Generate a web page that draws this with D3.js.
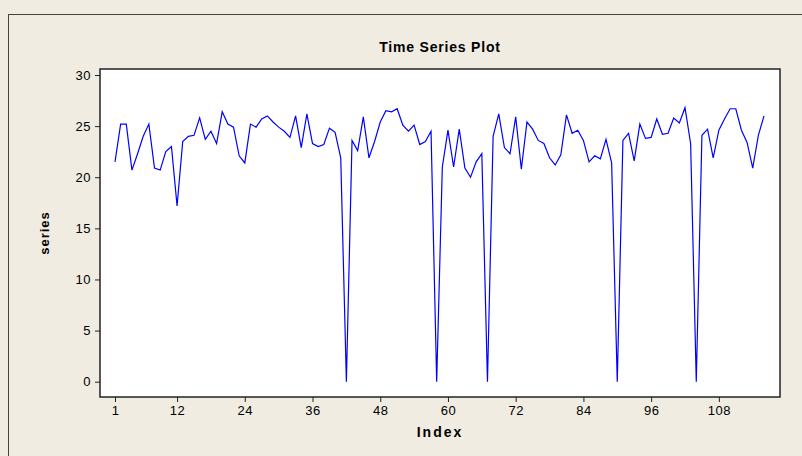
<!DOCTYPE html>
<html>
<head>
<meta charset="utf-8">
<script src="https://d3js.org/d3.v7.min.js"></script>
<style>
  body { margin: 0; background: #f0ece1; }
  text { font-family: "Liberation Sans", Arial, sans-serif; }
</style>
</head>
<body>
<svg id="chart" width="802" height="456"></svg>
<script>
const seriesValues = [
  21.5, 25.2, 25.2, 20.7, 22.3, 24.0, 25.2, 20.9, 20.7, 22.5,
  23.0, 17.2, 23.5, 24.0, 24.1, 25.8, 23.7, 24.5, 23.3, 26.4,
  25.2, 24.9, 22.1, 21.4, 25.2, 24.9, 25.7, 26.0, 25.4, 24.9,
  24.5, 23.9, 26.0, 22.9, 26.2, 23.3, 23.0, 23.2, 24.8, 24.4,
  21.9, 0, 23.6, 22.6, 25.9, 21.9, 23.5, 25.4, 26.5, 26.4,
  26.7, 25.1, 24.5, 25.1, 23.2, 23.5, 24.5, 0, 21.0, 24.6,
  21.0, 24.7, 20.9, 20.0, 21.5, 22.3, 0, 24.0, 26.2, 22.9,
  22.3, 25.9, 20.8, 25.4, 24.7, 23.6, 23.3, 21.9, 21.2, 22.2,
  26.1, 24.3, 24.6, 23.6, 21.5, 22.1, 21.8, 23.7, 21.4, 0,
  23.6, 24.3, 21.6, 25.2, 23.8, 23.9, 25.7, 24.2, 24.3, 25.8,
  25.3, 26.8, 23.3, 0, 24.1, 24.7, 21.9, 24.6, 25.7, 26.7,
  26.7, 24.6, 23.4, 20.9, 24.1, 26.0
]
const xTicks = [1, 12, 24, 36, 48, 60, 72, 84, 96, 108]
const yTicks = [0, 5, 10, 15, 20, 25, 30]

const svg = d3.select("#chart")
const plot = { left: 100, top: 69, right: 780, bottom: 397 }

// outer frame, cut off at right and bottom
svg.append("rect")
  .attr("x", 8.5).attr("y", 14.5)
  .attr("width", 820).attr("height", 460)
  .attr("fill", "#f0ece1")
  .attr("stroke", "#444").attr("stroke-width", 1)

svg.append("rect")
  .attr("x", plot.left).attr("y", plot.top)
  .attr("width", plot.right - plot.left).attr("height", plot.bottom - plot.top)
  .attr("fill", "#fff")
  .attr("stroke", "#222").attr("stroke-width", 1.5)

const x = d3.scaleLinear().domain([1, 116]).range([115, 764])
const y = d3.scaleLinear().domain([0, 30]).range([381.7, 75])

const xAxis = svg.append("g")
  .attr("transform", `translate(0,${plot.bottom})`)
  .call(d3.axisBottom(x).tickValues(xTicks).tickSize(5).tickPadding(4).tickSizeOuter(0))
xAxis.select(".domain").remove()

const yAxis = svg.append("g")
  .attr("transform", `translate(${plot.left},0)`)
  .call(d3.axisLeft(y).tickValues(yTicks).tickSize(5).tickPadding(4).tickSizeOuter(0))
yAxis.select(".domain").remove()

svg.selectAll(".tick line").attr("stroke", "#222")
svg.selectAll(".tick text")
  .attr("fill", "#000")
  .style("font-size", "13px")
  .style("letter-spacing", "0.5px")

const line = d3.line()
  .x((d, i) => x(i + 1))
  .y(d => y(d))

svg.append("path")
  .datum(seriesValues)
  .attr("fill", "none")
  .attr("stroke", "#0000ff")
  .attr("stroke-width", 1.2)
  .attr("d", line)

svg.append("text")
  .attr("x", (plot.left + plot.right) / 2).attr("y", 52)
  .attr("text-anchor", "middle")
  .style("font-size", "14px").style("font-weight", "bold")
  .style("letter-spacing", "0.8px")
  .text("Time Series Plot")

svg.append("text")
  .attr("x", (plot.left + plot.right) / 2).attr("y", 437)
  .attr("text-anchor", "middle")
  .style("font-size", "14px").style("font-weight", "bold")
  .style("letter-spacing", "2px")
  .text("Index")

svg.append("text")
  .attr("transform", `translate(49,${(plot.top + plot.bottom) / 2}) rotate(-90)`)
  .attr("text-anchor", "middle")
  .style("font-size", "13px").style("font-weight", "bold")
  .style("letter-spacing", "1px")
  .text("series")
</script>
</body>
</html>
